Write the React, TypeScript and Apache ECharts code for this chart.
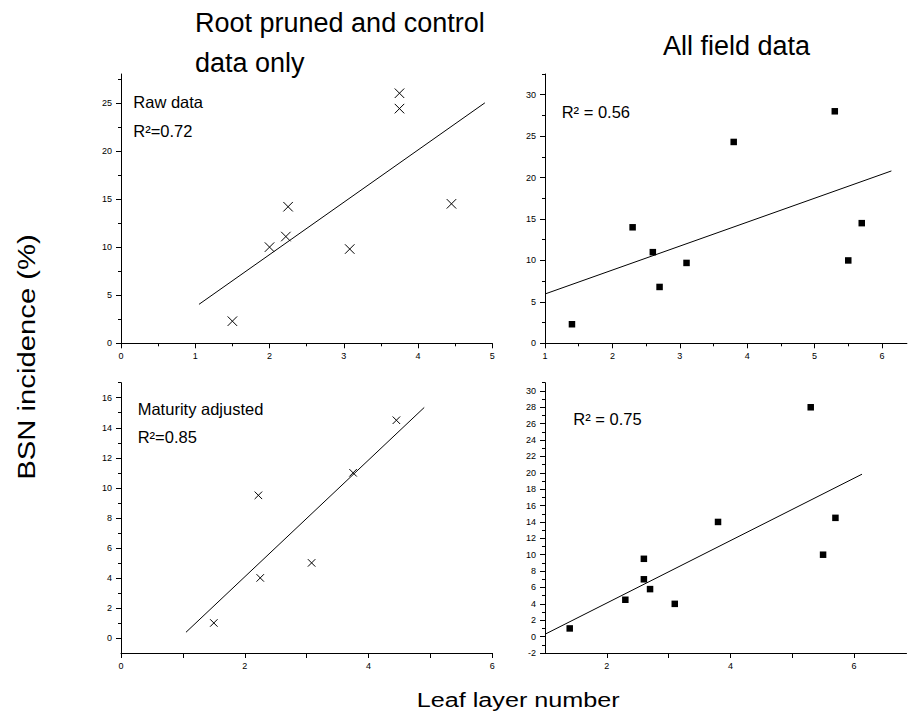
import React, { useEffect, useRef } from "react";
import * as echarts from "echarts";

// ---- Data ----
// Panel 1: Root pruned & control, raw data
const rawX = [1.5, 2.0, 2.22, 2.25, 3.08, 3.75, 3.75, 4.45];
const rawY = [2.3, 10.0, 11.1, 14.2, 9.8, 26.0, 24.4, 14.5];
const rawFitX = [1.05, 4.9];
const rawFitY = [4.05, 25.0];

// Panel 2: All field data, raw
const fieldX = [1.4, 2.3, 2.6, 2.7, 3.1, 3.8, 5.3, 5.5, 5.7];
const fieldY = [2.3, 14.0, 11.0, 6.8, 9.7, 24.3, 28.0, 10.0, 14.5];
const fieldFitX = [1.0, 6.14];
const fieldFitY = [5.95, 20.8];

// Panel 3: Root pruned & control, maturity adjusted
const matX = [1.5, 2.22, 2.25, 3.08, 3.75, 4.45];
const matY = [1.0, 9.5, 4.0, 5.0, 11.0, 14.5];
const matFitX = [1.05, 4.9];
const matFitY = [0.38, 15.35];

// Panel 4: All field data, maturity adjusted
const fieldAdjX = [1.4, 2.3, 2.6, 2.6, 2.7, 3.1, 3.8, 5.3, 5.5, 5.7];
const fieldAdjY = [1.0, 4.5, 9.5, 7.0, 5.8, 4.0, 14.0, 28.0, 10.0, 14.5];
const fieldAdjFitX = [1.0, 6.13];
const fieldAdjFitY = [0.29, 19.83];

// Tick values
const p1XMajor = [0, 1, 2, 3, 4, 5];
const p1XMinor = [0.5, 1.5, 2.5, 3.5, 4.5];
const p1YMajor = [0, 5, 10, 15, 20, 25];
const p1YMinor = [2.5, 7.5, 12.5, 17.5, 22.5, 27.5];

const p2XMajor = [1, 2, 3, 4, 5, 6];
const p2XMinor = [1.5, 2.5, 3.5, 4.5, 5.5];
const p2YMajor = [0, 5, 10, 15, 20, 25, 30];
const p2YMinor = [2.5, 7.5, 12.5, 17.5, 22.5, 27.5, 32.5];

const p3XMajor = [0, 1, 2, 3, 4, 5, 6];
const p3XLabels = [0, 2, 4, 6];
const p3YMajor = [0, 2, 4, 6, 8, 10, 12, 14, 16];
const p3YMinor = [1, 3, 5, 7, 9, 11, 13, 15, 17];

const p4XMajor = [2, 3, 4, 5, 6];
const p4XLabels = [2, 4, 6];
const p4YMajor = [-2, 0, 2, 4, 6, 8, 10, 12, 14, 16, 18, 20, 22, 24, 26, 28, 30];
const p4YMinor = [-1, 1, 3, 5, 7, 9, 11, 13, 15, 17, 19, 21, 23, 25, 27, 29, 31];

const FONT = '"Liberation Sans", Arial, sans-serif';
const CROSS = "path://M0,0L10,10M10,0L0,10";

function zip(xs: number[], ys: number[]) {
  return xs.map((x, i) => [x, ys[i]]);
}

function axes(
  dim: "x" | "y",
  gridIndex: number,
  min: number,
  max: number,
  major: number[],
  minor: number[],
  labels: number[]
) {
  const position = dim === "x" ? "bottom" : "left";
  const main = {
    type: "value",
    gridIndex,
    min,
    max,
    position,
    offset: 0,
    axisLine: { show: true, onZero: false, lineStyle: { color: "#000", width: 1 } },
    axisTick: {
      show: true,
      inside: false,
      length: 5,
      customValues: major,
      lineStyle: { color: "#000", width: 1 },
    },
    axisLabel: {
      show: true,
      customValues: labels,
      fontSize: 9,
      fontFamily: FONT,
      color: "#000",
      margin: dim === "x" ? 8 : 9,
      hideOverlap: false,
    },
    splitLine: { show: false },
  };
  const sub = {
    type: "value",
    gridIndex,
    min,
    max,
    position,
    offset: 0,
    axisLine: { show: false, onZero: false },
    axisTick: {
      show: minor.length > 0,
      inside: false,
      length: 3,
      customValues: minor,
      lineStyle: { color: "#000", width: 1 },
    },
    axisLabel: { show: false },
    splitLine: { show: false },
  };
  return [main, sub];
}

function text(x: number, y: number, t: string, size: number, extra: any = {}) {
  return {
    type: "text",
    x,
    y,
    ...extra,
    style: {
      text: t,
      fontSize: size,
      fontFamily: FONT,
      fill: "#000",
      align: extra.align || "left",
      verticalAlign: "middle",
    },
  };
}

export default function App() {
  const ref = useRef<HTMLDivElement>(null);

  useEffect(() => {
    if (!ref.current) return;
    const chart = echarts.init(ref.current, undefined, { renderer: "svg" });

    const grids = [
      { left: 121, top: 74, width: 371.3, height: 269.3 },
      { left: 545, top: 74, width: 361.9, height: 269.3 },
      { left: 121, top: 382.7, width: 371.3, height: 270.3 },
      { left: 545, top: 382.7, width: 361.5, height: 270.3 },
    ].map((g) => ({ ...g, containLabel: false, outerBoundsMode: "none" }));

    const xAxis = [
      ...axes("x", 0, 0, 5, p1XMajor, p1XMinor, p1XMajor),
      ...axes("x", 1, 1, 6.37, p2XMajor, p2XMinor, p2XMajor),
      ...axes("x", 2, 0, 6, p3XMajor, [], p3XLabels),
      ...axes("x", 3, 1, 6.85, p4XMajor, [], p4XLabels),
    ];
    const yAxis = [
      ...axes("y", 0, 0, 28, p1YMajor, p1YMinor, p1YMajor),
      ...axes("y", 1, 0, 32.5, p2YMajor, p2YMinor, p2YMajor),
      ...axes("y", 2, -1, 17, p3YMajor, p3YMinor, p3YMajor),
      ...axes("y", 3, -2, 31, p4YMajor, p4YMinor, p4YMajor),
    ];

    const lineSeries = (idx: number, xs: number[], ys: number[]) => ({
      type: "line",
      xAxisIndex: idx * 2,
      yAxisIndex: idx * 2,
      data: zip(xs, ys),
      symbol: "none",
      lineStyle: { color: "#000", width: 1 },
      silent: true,
      z: 2,
    });
    const crossSeries = (idx: number, xs: number[], ys: number[], size: number) => ({
      type: "scatter",
      xAxisIndex: idx * 2,
      yAxisIndex: idx * 2,
      data: zip(xs, ys),
      symbol: CROSS,
      symbolSize: size,
      itemStyle: { color: "none", borderColor: "#000", borderWidth: 1, opacity: 1 },
      silent: true,
      z: 3,
    });
    const squareSeries = (idx: number, xs: number[], ys: number[]) => ({
      type: "scatter",
      xAxisIndex: idx * 2,
      yAxisIndex: idx * 2,
      data: zip(xs, ys),
      symbol: "rect",
      symbolSize: 6.5,
      itemStyle: { color: "#000", opacity: 1 },
      silent: true,
      z: 3,
    });

    const option: any = {
      animation: false,
      backgroundColor: "#fff",
      textStyle: { fontFamily: FONT },
      grid: grids,
      xAxis,
      yAxis,
      series: [
        lineSeries(0, rawFitX, rawFitY),
        crossSeries(0, rawX, rawY, 9.5),
        lineSeries(1, fieldFitX, fieldFitY),
        squareSeries(1, fieldX, fieldY),
        lineSeries(2, matFitX, matFitY),
        crossSeries(2, matX, matY, 7.5),
        lineSeries(3, fieldAdjFitX, fieldAdjFitY),
        squareSeries(3, fieldAdjX, fieldAdjY),
      ],
      graphic: [
        text(195, 23, "Root pruned and control", 27),
        text(195, 62.5, "data only", 27),
        text(663, 45.5, "All field data", 27),
        text(416.7, 699.4, "Leaf layer number", 21, { scaleX: 1.2 }),
        text(27, 357, "BSN incidence (%)", 24, {
          rotation: Math.PI / 2,
          scaleX: 1.22,
          align: "center",
        }),
        text(133.3, 101.6, "Raw data", 16.5),
        text(133.3, 130.8, "R²=0.72", 16.5),
        text(561.7, 112, "R² = 0.56", 16.5),
        text(137.7, 409.3, "Maturity adjusted", 16.5),
        text(137.7, 437, "R²=0.85", 16.5),
        text(573.3, 418.6, "R² = 0.75", 16.5),
      ],
    };

    chart.setOption(option);
    return () => chart.dispose();
  }, []);

  return (
    <div
      ref={ref}
      style={{ position: "fixed", left: 0, top: 0, width: 908, height: 718, background: "#fff" }}
    />
  );
}
